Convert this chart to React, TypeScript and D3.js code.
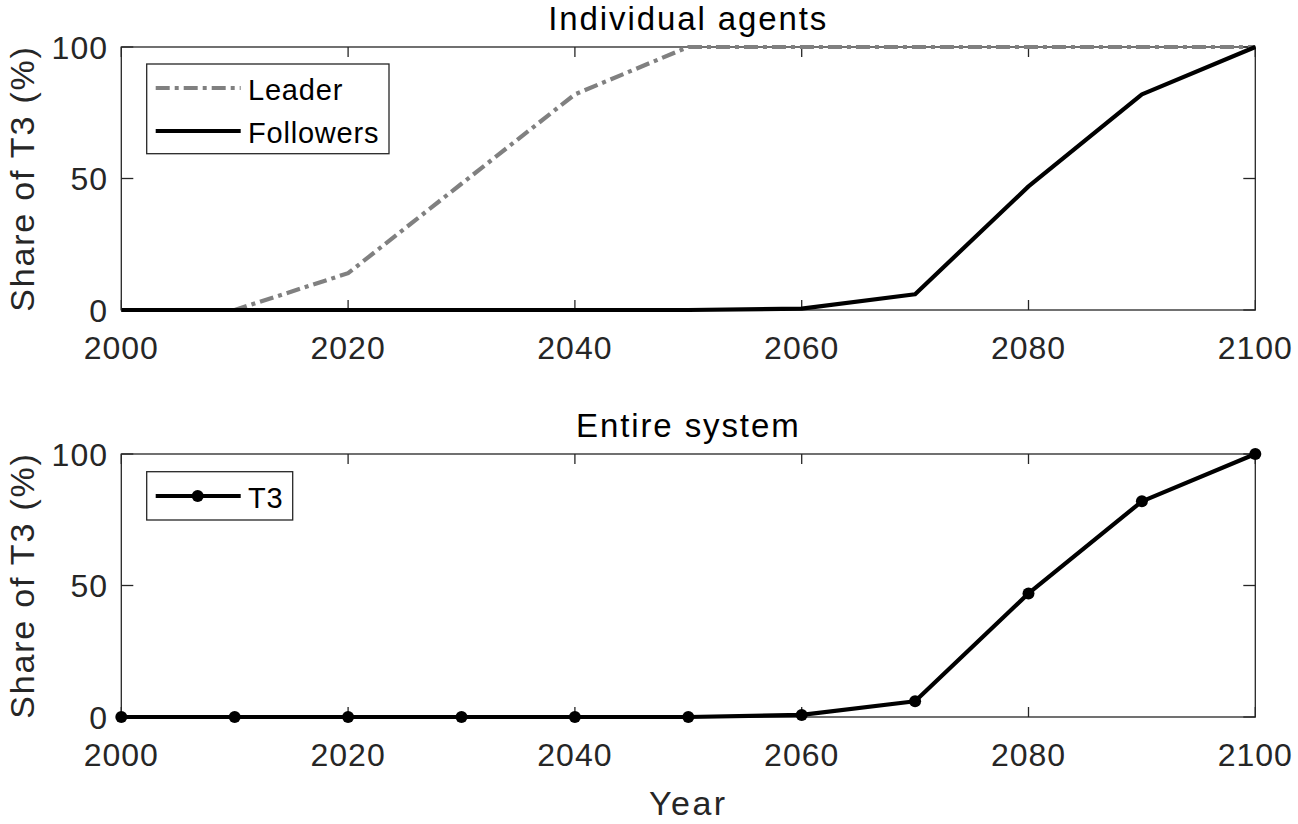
import React from 'react';
import * as d3 from 'd3';

// data
const years = [2000, 2010, 2020, 2030, 2040, 2050, 2060, 2070, 2080, 2090, 2100];
const leader = [0, 0, 14, 48, 82, 100, 100, 100, 100, 100, 100];
const followers = [0, 0, 0, 0, 0, 0, 0.5, 6, 47, 82, 100];
const system = [0, 0, 0, 0, 0, 0, 0.8, 6, 47, 82, 100];
const xTicks = [2000, 2020, 2040, 2060, 2080, 2100];
const yTicks = [0, 50, 100];

const W = 1298;
const H = 824;
const left = 121.3;
const right = 1255.3;
const axisColor = '#262626';
const font = '"Liberation Sans", Arial, Helvetica, sans-serif';

const x = d3.scaleLinear().domain([2000, 2100]).range([left, right]);

function Panel({ top, bottom, title, children }) {
  const y = d3.scaleLinear().domain([0, 100]).range([bottom, top]);
  const mid = (top + bottom) / 2;
  return (
    <g>
      <text x={(left + right) / 2} y={top - 17} textAnchor="middle" fontSize={33}
        letterSpacing={1.9} fill="#000" fontFamily={font}>{title}</text>
      {/* y label */}
      <text transform={`translate(34,${mid}) rotate(-90)`} textAnchor="middle" fontSize={34}
        letterSpacing={1.8} fill={axisColor} fontFamily={font}>Share of T3 (%)</text>
      {/* frame */}
      <rect x={left} y={top} width={right - left} height={bottom - top} fill="none"
        stroke={axisColor} strokeWidth={1.3} />
      {xTicks.map((t) => (
        <g key={'x' + t}>
          <line x1={x(t)} x2={x(t)} y1={bottom} y2={bottom - 10} stroke={axisColor} strokeWidth={1.3} />
          <line x1={x(t)} x2={x(t)} y1={top} y2={top + 10} stroke={axisColor} strokeWidth={1.3} />
          <text x={x(t)} y={bottom + 49} textAnchor="middle" fontSize={32} letterSpacing={1}
            fill={axisColor} fontFamily={font}>{t}</text>
        </g>
      ))}
      {yTicks.map((t) => (
        <g key={'y' + t}>
          <line x1={left} x2={left + 12} y1={y(t)} y2={y(t)} stroke={axisColor} strokeWidth={1.3} />
          <line x1={right} x2={right - 12} y1={y(t)} y2={y(t)} stroke={axisColor} strokeWidth={1.3} />
          <text x={108} y={y(t)} dy="0.36em" textAnchor="end" fontSize={32} letterSpacing={1}
            fill={axisColor} fontFamily={font}>{t}</text>
        </g>
      ))}
      {children(y)}
    </g>
  );
}

export default function App() {
  const lineGen = (y, vals) =>
    d3.line<number>().x((d, i) => x(years[i])).y((d) => y(d))(vals);

  return (
    <svg width={W} height={H} style={{ position: 'absolute', left: 0, top: 0, background: '#fff' }}>
      <rect width={W} height={H} fill="#fff" />
      <Panel top={47} bottom={310} title="Individual agents">
        {(y) => (
          <g>
            <path d={lineGen(y, leader)} fill="none" stroke="#808080" strokeWidth={4.2}
              strokeDasharray="14,5,4,5" />
            <path d={lineGen(y, followers)} fill="none" stroke="#000" strokeWidth={4.2}
              strokeLinejoin="round" />
            {/* legend */}
            <rect x={146.7} y={64} width={242.3} height={89.7} fill="#fff" stroke={axisColor} strokeWidth={1.3} />
            <line x1={155.7} x2={240.7} y1={88} y2={88} stroke="#808080" strokeWidth={4.2}
              strokeDasharray="14,5,4,5" />
            <text x={248} y={100} fontSize={29} letterSpacing={0.8} fill="#000" fontFamily={font}>Leader</text>
            <line x1={155.7} x2={240.7} y1={131} y2={131} stroke="#000" strokeWidth={4.2} />
            <text x={248} y={143} fontSize={29} letterSpacing={0.8} fill="#000" fontFamily={font}>Followers</text>
          </g>
        )}
      </Panel>
      <Panel top={454} bottom={717} title="Entire system">
        {(y) => (
          <g>
            <path d={lineGen(y, system)} fill="none" stroke="#000" strokeWidth={4.2}
              strokeLinejoin="round" />
            {system.map((v, i) => (
              <circle key={i} cx={x(years[i])} cy={y(v)} r={6} fill="#000" />
            ))}
            <rect x={146.7} y={471.7} width={146} height={48.3} fill="#fff" stroke={axisColor} strokeWidth={1.3} />
            <line x1={155.7} x2={240.7} y1={496} y2={496} stroke="#000" strokeWidth={4.2} />
            <circle cx={197.7} cy={496} r={6} fill="#000" />
            <text x={248} y={507.5} fontSize={29} letterSpacing={0.8} fill="#000" fontFamily={font}>T3</text>
          </g>
        )}
      </Panel>
      <text x={(left + right) / 2} y={815} textAnchor="middle" fontSize={34} letterSpacing={2.5}
        fill={axisColor} fontFamily={font}>Year</text>
    </svg>
  );
}
